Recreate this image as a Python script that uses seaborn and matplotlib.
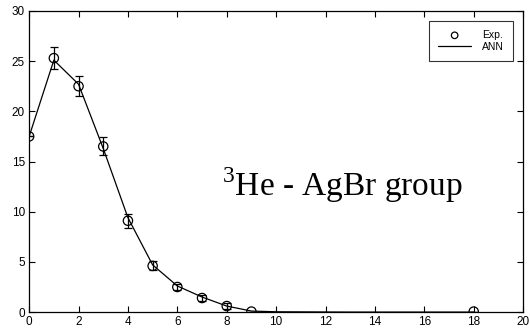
import numpy as np
import pandas as pd
import matplotlib
matplotlib.use("Agg")
import matplotlib.pyplot as plt
import seaborn as sns

# Data
exp_x = [0, 1, 2, 3, 4, 5, 6, 7, 8, 9, 18]
exp_y = [17.5, 25.3, 22.5, 16.5, 9.1, 4.6, 2.5, 1.4, 0.6, 0.05, 0.05]
exp_err = [0.0, 1.1, 1.0, 0.9, 0.7, 0.45, 0.3, 0.3, 0.3, 0.0, 0.0]

ann_x = [0, 1, 2, 3, 4, 5, 6, 7, 8, 9, 10, 11, 12, 13, 14, 15, 16, 17, 18]
ann_y = [17.5, 25.1, 22.7, 16.3, 9.4, 4.7, 2.6, 1.5, 0.6, 0.1,
         0.03, 0.02, 0.01, 0.0, 0.0, 0.0, 0.0, 0.0, 0.0]

sns.set_style("ticks")
plt.rcParams["font.family"] = ["Liberation Sans", "DejaVu Sans"]
plt.rcParams["mathtext.fontset"] = "custom"
plt.rcParams["mathtext.rm"] = "Liberation Serif"

fig = plt.figure(figsize=(5.3, 3.32), dpi=100)
ax = fig.add_axes([0.055, 0.06, 0.932, 0.907])

ann = pd.DataFrame({"x": ann_x, "y": ann_y})
sns.lineplot(data=ann, x="x", y="y", ax=ax, color="black", linewidth=0.9,
             label="ANN", zorder=2)

ax.errorbar(exp_x, exp_y, yerr=exp_err, fmt="none", ecolor="black",
            elinewidth=0.9, capsize=3, capthick=0.9, zorder=3)
exp = pd.DataFrame({"x": exp_x, "y": exp_y})
sns.scatterplot(data=exp, x="x", y="y", ax=ax, marker="o", s=45,
                facecolor="none", edgecolor="black", linewidth=0.9,
                label="Exp.", zorder=4)

ax.set_xlim(0, 20)
ax.set_ylim(0, 30)
ax.set_xticks(range(0, 21, 2))
ax.set_yticks(range(0, 31, 5))
ax.set_xlabel("")
ax.set_ylabel("")
ax.tick_params(direction="in", top=True, right=True, length=4, width=0.8,
               labelsize=8.5, pad=3, colors="black")
for s in ax.spines.values():
    s.set_linewidth(0.9)
    s.set_color("black")

handles, labels = ax.get_legend_handles_labels()
order = [labels.index("Exp."), labels.index("ANN")]
leg = ax.legend([handles[i] for i in order], [labels[i] for i in order],
                loc="upper right", fontsize=7.5, frameon=True, fancybox=False,
                edgecolor="black", handlelength=3.2, borderpad=0.9,
                labelspacing=0.15, handletextpad=1.0, markerscale=0.7,
                bbox_to_anchor=(0.99, 0.985))
leg.get_frame().set_linewidth(0.8)
for t in leg.get_texts():
    t.set_color("black")

ax.text(0.39, 0.42, r"$^{3}$He - AgBr group", transform=ax.transAxes,
        fontsize=24, family=["Liberation Serif", "DejaVu Serif"],
        ha="left", va="center", color="black")

fig.savefig("out.png", dpi=100)
